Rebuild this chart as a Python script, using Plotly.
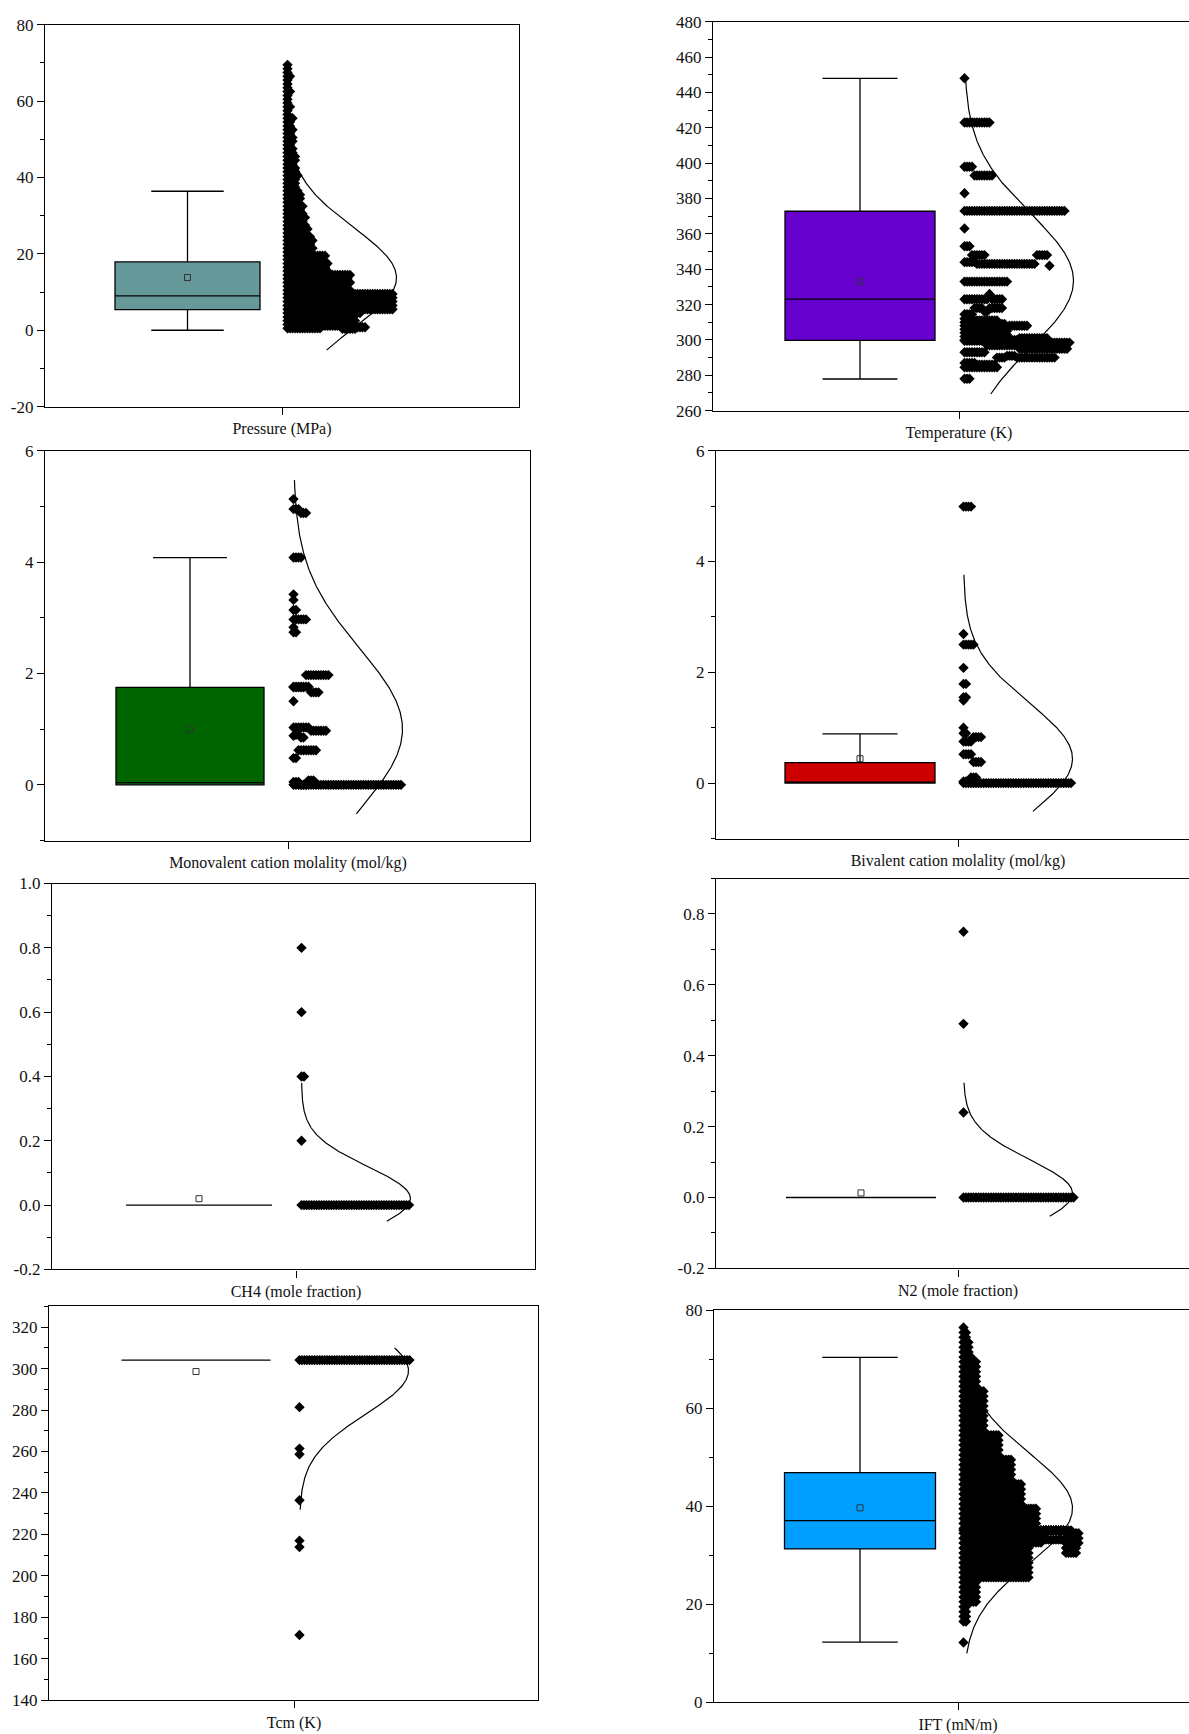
import numpy as np
import plotly.graph_objects as go

# ---------------- data ----------------
labels = ["Pressure (MPa)", "Temperature (K)", "Monovalent cation molality (mol/kg)",
          "Bivalent cation molality (mol/kg)", "CH4 (mole fraction)", "N2 (mole fraction)",
          "Tcm (K)", "IFT (mN/m)"]

box_q1 = [5.4, 299.8, 0.0, 0.0, 0.0, 0.0, 304.1, 31.3]
box_median = [9.0, 323.1, 0.04, 0.0, 0.0, 0.0, 304.1, 37.1]
box_q3 = [17.9, 372.8, 1.75, 0.37, 0.0, 0.0, 304.1, 46.9]
box_low = [0.0, 277.9, 0.0, 0.0, 0.0, 0.0, 304.1, 12.3]
box_high = [36.4, 448.0, 4.08, 0.89, 0.0, 0.0, 304.1, 70.4]
box_mean = [13.8, 333.1, 1.0, 0.44, 0.02, 0.013, 298.6, 39.7]

curve_mean = [13.7, 333.5, 1.0, 0.44, 0.02, 0.012, 299.0, 39.6]
curve_sd = [13.2, 38.0, 1.45, 1.0, 0.10, 0.095, 21.0, 11.2]
curve_lo = [-5.2, 269.4, -0.52, -0.51, -0.05, -0.053, 232.0, 10.0]
curve_hi = [42.2, 446.5, 5.47, 3.76, 0.38, 0.324, 310.0, 61.7]

y_ranges = [[-20, 80], [260, 480], [-1, 6], [-1, 6], [-0.2, 1.0], [-0.2, 0.9], [140, 330], [0, 80]]
y_tickvals = [[-20, 0, 20, 40, 60, 80],
              [260, 280, 300, 320, 340, 360, 380, 400, 420, 440, 460, 480],
              [0, 2, 4, 6], [0, 2, 4, 6],
              [-0.2, 0.0, 0.2, 0.4, 0.6, 0.8, 1.0],
              [-0.2, 0.0, 0.2, 0.4, 0.6, 0.8],
              [140, 160, 180, 200, 220, 240, 260, 280, 300, 320],
              [0, 20, 40, 60, 80]]
y_minor = [10, 10, 1, 1, 0.1, 0.1, 10, 10]

# dot rows: each row is a list of (value, number of points) laid side by side
pressure_rows = [[(69.5, 1)], [(68.5, 1)], [(67.5, 1)], [(66.5, 2)], [(65.5, 1)], [(64.5, 1)],
                 [(63.5, 1)], [(62.5, 2)], [(61.5, 1)], [(60.5, 1)], [(59.5, 1)], [(58.5, 2)],
                 [(57.5, 1)], [(56.5, 1)], [(55.5, 3)], [(54.5, 2)], [(53.5, 2)], [(52.5, 3)],
                 [(51.5, 2)], [(50.5, 3)], [(49.5, 3)], [(48.5, 2)], [(47.5, 3)], [(46.5, 3)],
                 [(45.5, 4)], [(44.5, 4)], [(43.5, 3)], [(42.5, 4)], [(41.5, 4)], [(40.5, 5)],
                 [(39.5, 4)], [(38.5, 4)], [(37.5, 4)], [(36.5, 5)], [(35.5, 6)], [(34.5, 6)],
                 [(33.5, 5)], [(32.5, 7)], [(31.5, 6)], [(30.5, 7)], [(29.5, 8)], [(28.5, 7)],
                 [(27.5, 8)], [(26.5, 9)], [(25.5, 8)], [(24.5, 10)], [(23.5, 11)], [(22.5, 10)],
                 [(21.5, 11)], [(20.5, 10)], [(19.5, 16)], [(18.5, 15)], [(17.5, 17)], [(16.5, 16)],
                 [(15.5, 17)], [(14.5, 26)], [(13.5, 25)], [(12.5, 26)], [(11.5, 24)], [(10.5, 26)],
                 [(9.5, 43)], [(8.5, 43)], [(7.5, 43)], [(6.5, 43)], [(5.5, 43)], [(4.5, 30)],
                 [(3.5, 26)], [(2.5, 28)], [(1.5, 20)], [(0.5, 14), (1.2, 8), (0.4, 6), (0.8, 4)]]

temperature_rows = [[(448, 1)], [(423, 11)], [(398, 4), (393, 8)], [(383, 1)], [(373, 41)],
                    [(363, 1)], [(353, 3), (348, 6)], [(344, 5), (343, 24), (348, 5), (342, 1)],
                    [(333, 18)], [(323, 10), (326, 1), (323, 5)],
                    [(314.5, 4), (318, 4), (316, 2), (318, 6)],
                    [(312, 4), (311, 10)], [(310, 3), (309, 14)], [(308, 5), (307, 13), (308, 8)],
                    [(306, 5), (305, 13)], [(304, 4), (303, 14)], [(302, 5), (301, 13)],
                    [(300, 22), (301, 12)], [(299.5, 22), (298.5, 21)],
                    [(293, 9), (297, 13), (295, 20)],
                    [(287, 5), (286, 8), (290, 4), (291, 4), (290, 16)],
                    [(284.5, 14)], [(278, 3)]]

monovalent_rows = [[(5.13, 1)], [(4.95, 3), (4.88, 3)], [(4.08, 4)], [(3.42, 1)], [(3.32, 1)],
                   [(3.14, 2)], [(2.97, 6)], [(2.83, 1)], [(2.74, 2)], [(1.75, 5), (1.97, 10)],
                   [(1.76, 7), (1.66, 4)], [(1.5, 1)], [(1.03, 7), (0.97, 7)],
                   [(0.88, 1), (0.9, 2), (0.85, 2)], [(0.48, 2), (0.62, 8)], [(0.0, 44)],
                   [(0.05, 3), (0.0, 3), (0.08, 3)]]

bivalent_rows = [[(4.99, 4)], [(2.69, 1)], [(2.5, 5)], [(2.08, 1)], [(1.79, 2)], [(1.55, 2)],
                 [(1.49, 1)], [(1.0, 1)], [(0.9, 2)], [(0.75, 4), (0.83, 4)],
                 [(0.52, 4), (0.38, 4)], [(0.03, 3), (0.1, 3)], [(0.0, 44)]]

ch4_rows = [[(0.8, 1)], [(0.6, 1)], [(0.4, 2)], [(0.2, 1)], [(0.0, 44)]]
n2_rows = [[(0.75, 1)], [(0.49, 1)], [(0.24, 1)], [(0.0, 45)]]
tcm_rows = [[(304.1, 45)], [(281.4, 1)], [(261.4, 1)], [(258.7, 1)], [(236.5, 1)],
            [(217.0, 1)], [(213.9, 1)], [(171.5, 1)]]

ift_rows = [[(76.5, 1)], [(75.5, 2)], [(74.5, 2)], [(73.5, 3)], [(72.5, 3)], [(71.5, 3)], [(70.5, 4)],
            [(69.5, 6)], [(68.5, 6)], [(67.5, 6)], [(66.5, 6)], [(65.5, 6)], [(64.5, 6)],
            [(63.5, 9)], [(62.5, 9)], [(61.5, 9)], [(60.5, 9)], [(59.5, 9)], [(58.5, 9)],
            [(57.5, 9)], [(56.5, 9)], [(55.5, 9)],
            [(54.5, 15)], [(53.5, 15)], [(52.5, 15)], [(51.5, 15)], [(50.5, 15)],
            [(49.5, 20)], [(48.5, 20)], [(47.5, 20)], [(46.5, 20)], [(45.5, 20)],
            [(44.5, 24)], [(43.5, 24)], [(42.5, 24)], [(41.5, 24)], [(40.5, 24)],
            [(39.5, 30)], [(38.5, 30)], [(37.5, 30)], [(36.5, 30)], [(35.5, 30)],
            [(35.1, 44)],
            [(34.5, 27), (34.0, 6), (33.2, 8), (34.5, 6)],
            [(33.5, 27), (32.6, 5), (35.1, 9), (33.5, 6)],
            [(32.5, 27), (35.1, 14), (32.5, 6)],
            [(31.5, 27), (35.1, 14), (31.5, 5)],
            [(30.5, 27), (35.1, 14), (30.5, 5)],
            [(29.5, 27)], [(28.5, 27)], [(27.5, 27)], [(26.5, 27)], [(25.5, 27)],
            [(24.5, 6)], [(23.5, 6)], [(22.5, 6)], [(21.5, 6)], [(20.5, 6)],
            [(19.5, 2)], [(18.5, 2)], [(17.5, 2)], [(16.5, 2)], [(12.2, 1)]]

all_rows = [pressure_rows, temperature_rows, monovalent_rows, bivalent_rows,
            ch4_rows, n2_rows, tcm_rows, ift_rows]

box_colors = ["#669999", "#6600CC", "#006400", "#CC0000", "#FFFFFF", "#FFFFFF", "#FFFFFF", "#009EFF"]

# ---------------- layout geometry (pixels) ----------------
W, H = 1189, 1734


def sy(y):
    # compensate for the vertical placement observed in the rendered page
    return (y - 8.26) / 0.9893


panels = [
    dict(l=45, r=519, t=24, b=406, tick=282, box=187.5, bw=145, mirror_y=True),
    dict(l=713, r=1189, t=21, b=410, tick=959, box=860, bw=150, mirror_y=False),
    dict(l=45, r=530, t=450, b=840, tick=288, box=190, bw=148, mirror_y=True),
    dict(l=716, r=1189, t=450, b=838, tick=958, box=860, bw=150, mirror_y=False),
    dict(l=52, r=535, t=883, b=1269, tick=296, box=199, bw=146, mirror_y=True),
    dict(l=716, r=1189, t=878, b=1268, tick=958, box=861, bw=150, mirror_y=False),
    dict(l=49, r=538, t=1306, b=1700, tick=294, box=196, bw=149, mirror_y=True),
    dict(l=714, r=1189, t=1310, b=1702, tick=958, box=860, bw=151, mirror_y=False),
]
DOT_STEP = 2.5
DOT_START = 5.5
CURVE_AMP = 109

fig = go.Figure()
font_family = "Liberation Serif, Times New Roman, serif"
axis_common = dict(showgrid=False, zeroline=False, showline=True, linecolor="black",
                   linewidth=1.3, ticks="outside", tickcolor="black", tickwidth=1.2,
                   ticklen=7, fixedrange=True)

for i, p in enumerate(panels):
    n = i + 1
    xa = "x" if n == 1 else f"x{n}"
    ya = "y" if n == 1 else f"y{n}"
    width_px = p["r"] - p["l"]
    tick_x = p["tick"] - p["l"]
    box_x = p["box"] - p["l"]
    base = tick_x + DOT_START

    # box
    fig.add_trace(go.Box(x=[box_x], q1=[box_q1[i]], median=[box_median[i]], q3=[box_q3[i]],
                         lowerfence=[box_low[i]], upperfence=[box_high[i]],
                         width=p["bw"], whiskerwidth=0.5, orientation="v",
                         fillcolor=box_colors[i], line=dict(color="black", width=1.3),
                         boxpoints=False, hoverinfo="skip", showlegend=False,
                         xaxis=xa, yaxis=ya))
    # mean
    fig.add_trace(go.Scatter(x=[box_x], y=[box_mean[i]], mode="markers",
                             marker=dict(symbol="square-open", size=6, color="#333",
                                         line=dict(width=1)),
                             hoverinfo="skip", showlegend=False, xaxis=xa, yaxis=ya))
    # dots
    xs, ys = [], []
    for row in all_rows[i]:
        k = 0
        for val, cnt in row:
            for _ in range(cnt):
                xs.append(base + k * DOT_STEP)
                ys.append(val)
                k += 1
    fig.add_trace(go.Scatter(x=xs, y=ys, mode="markers",
                             marker=dict(symbol="diamond", size=8, color="black",
                                         line=dict(width=0)),
                             hoverinfo="skip", showlegend=False, xaxis=xa, yaxis=ya))
    # normal distribution curve
    cy = np.linspace(curve_lo[i], curve_hi[i], 300)
    cx = base + CURVE_AMP * np.exp(-0.5 * ((cy - curve_mean[i]) / curve_sd[i]) ** 2)
    fig.add_trace(go.Scatter(x=cx, y=cy, mode="lines", line=dict(color="black", width=1.2),
                             hoverinfo="skip", showlegend=False, xaxis=xa, yaxis=ya))

    xkey = "xaxis" if n == 1 else f"xaxis{n}"
    ykey = "yaxis" if n == 1 else f"yaxis{n}"
    fig.layout[xkey] = dict(axis_common, domain=[p["l"] / W, p["r"] / W], anchor=ya,
                            range=[0, width_px], tickvals=[tick_x], ticktext=[labels[i]],
                            tickfont=dict(family=font_family, size=16, color="#111"),
                            mirror=True)
    one_dec = i in (4, 5)
    fig.layout[ykey] = dict(axis_common,
                            domain=[1 - sy(p["b"]) / H, 1 - sy(p["t"]) / H], anchor=xa,
                            range=y_ranges[i], tickvals=y_tickvals[i],
                            ticktext=[(f"{v:.1f}" if one_dec else f"{v:g}") for v in y_tickvals[i]],
                            tickfont=dict(family=font_family, size=17, color="#111"),
                            mirror=p["mirror_y"],
                            minor=dict(dtick=y_minor[i], tick0=0, ticks="outside",
                                       ticklen=4, tickcolor="black", tickwidth=1.2))

fig.update_layout(width=W, height=H, margin=dict(l=0, r=0, t=0, b=0), autosize=False,
                  paper_bgcolor="white", plot_bgcolor="white", showlegend=False,
                  font=dict(family=font_family, size=16, color="#111"))

fig.write_html("out.html", config={"displayModeBar": False},
               post_script="document.body.style.margin='0px';"
                           "document.documentElement.style.overflow='hidden';")
